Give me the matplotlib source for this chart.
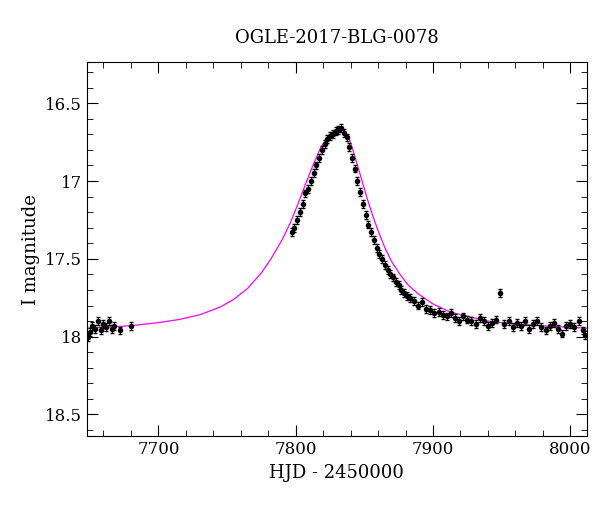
import matplotlib
matplotlib.use("Agg")
import matplotlib.pyplot as plt
from matplotlib.ticker import MultipleLocator

title = "OGLE-2017-BLG-0078"
xlabel = "HJD - 2450000"
ylabel = "I magnitude"

hjd = [7649,7650,7652,7654,7656,7658,7660,7662,7664,7666,7668,7672,7680,
       7797,7799,7801,7803,7805,7807,7809,7811,7813,7815,7817,7819,7821,7823,7825,7827,7829,7831,7833,
       7835,7837,7839,7841,7843,7845,7847,7849,7851,7853,7855,7857,7859,7861,7863,7865,7867,7869,7871,
       7873,7875,7877,7879,7881,7883,7886,7889,7892,7895,7898,7901,7904,7907,7910,7913,7916,7919,7922,
       7925,7928,7931,7934,7937,7940,7943,7946,7949,7952,7955,7958,7961,7964,7967,7970,7973,7976,7979,
       7982,7985,7988,7991,7994,7997,8000,8003,8006,8009,8011]
imag = [18.0,17.97,17.93,17.95,17.9,17.96,17.92,17.94,17.9,17.95,17.93,17.96,17.93,
        17.33,17.3,17.25,17.2,17.15,17.08,17.05,17.0,16.95,16.9,16.85,16.8,16.76,16.73,16.71,16.7,16.68,16.67,16.66,
        16.69,16.72,16.78,16.85,16.92,17.0,17.07,17.15,17.22,17.28,17.33,17.38,17.43,17.47,17.5,17.54,17.57,17.6,17.62,
        17.65,17.67,17.7,17.72,17.74,17.75,17.77,17.8,17.78,17.82,17.83,17.85,17.84,17.86,17.87,17.85,17.88,17.9,17.87,
        17.89,17.9,17.92,17.88,17.9,17.93,17.91,17.89,17.72,17.92,17.9,17.94,17.91,17.93,17.9,17.95,17.92,17.9,17.94,
        17.96,17.93,17.91,17.95,17.98,17.93,17.92,17.94,17.9,17.96,17.99]
err = 0.025

model_t = [7640,7660,7680,7700,7715,7730,7745,7755,7765,7775,7782,7790,7796,7802,7808,7813,7818,7822,
           7826,7830,7833,7836,7839,7842,7845,7848,7852,7856,7860,7865,7870,7876,7882,7890,7900,7912,
           7925,7940,7960,7980,8000,8020]
model_m = [17.95,17.94,17.93,17.91,17.89,17.86,17.81,17.76,17.69,17.59,17.5,17.38,17.27,17.14,17.0,16.89,
           16.79,16.73,16.69,16.67,16.668,16.68,16.73,16.81,16.9,16.99,17.11,17.22,17.32,17.43,17.52,17.6,
           17.67,17.73,17.79,17.84,17.87,17.9,17.92,17.93,17.94,17.95]

plt.rcParams["font.family"] = "DejaVu Serif"
fig, ax = plt.subplots(figsize=(6, 5.12), dpi=100)
fig.subplots_adjust(left=0.145, right=0.978, top=0.879, bottom=0.148)
ax.plot(model_t, model_m, color="magenta", lw=0.9, zorder=1)
ax.errorbar(hjd, imag, yerr=err, fmt="o", ms=3, color="black", ecolor="black",
            elinewidth=0.7, capsize=1.5, zorder=2)
ax.set_xlim(7648, 8012)
ax.set_ylim(18.64, 16.235)
ax.xaxis.set_major_locator(MultipleLocator(100))
ax.xaxis.set_minor_locator(MultipleLocator(20))
ax.yaxis.set_major_locator(MultipleLocator(0.5))
ax.yaxis.set_minor_locator(MultipleLocator(0.1))
ax.yaxis.set_major_formatter(matplotlib.ticker.FuncFormatter(lambda v, p: f"{v:g}"))
ax.tick_params(which="both", direction="in", top=True, right=True, labelsize=12)
ax.tick_params(which="major", length=8)
ax.tick_params(which="minor", length=4)
ax.set_title(title, fontsize=13, pad=14)
ax.set_xlabel(xlabel, fontsize=13)
ax.set_ylabel(ylabel, fontsize=13)
fig.savefig("out.png")
